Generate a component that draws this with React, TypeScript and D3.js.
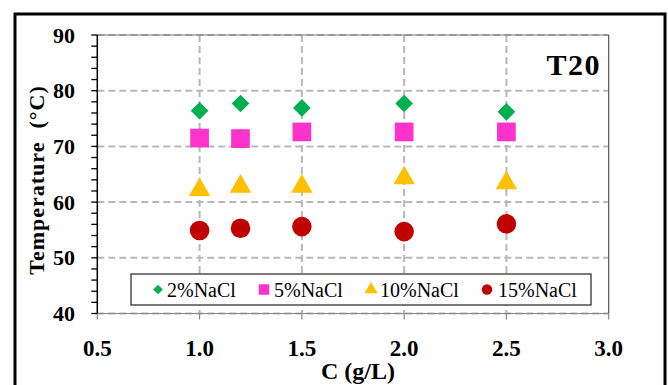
import React from "react";
import * as d3 from "d3";

const concentrations = [1.0, 1.2, 1.5, 2.0, 2.5];
const nacl2 = [76.4, 77.7, 76.9, 77.7, 76.2];
const nacl5 = [71.5, 71.4, 72.6, 72.6, 72.6];
const nacl10 = [62.2, 62.8, 62.8, 64.3, 63.4];
const nacl15 = [54.9, 55.3, 55.6, 54.7, 56.1];
const xTicks = [0.5, 1.0, 1.5, 2.0, 2.5, 3.0];
const yTicks = [40, 50, 60, 70, 80, 90];
const seriesNames = ["2%NaCl", "5%NaCl", "10%NaCl", "15%NaCl"];

const W = 668;
const H = 385;
const font = "Liberation Serif";

const x = d3.scaleLinear().domain([0.5, 3.0]).range([97.3, 608.7]);
const y = d3.scaleLinear().domain([40, 90]).range([313.5, 35]);

const series = [
  { name: seriesNames[0], values: nacl2, color: "#00b050", shape: d3.symbolDiamond2, size: 200, lsize: 60 },
  { name: seriesNames[1], values: nacl5, color: "#ff33cc", shape: d3.symbolSquare, size: 350, lsize: 110 },
  { name: seriesNames[2], values: nacl10, color: "#ffc000", shape: d3.symbolTriangle, size: 200, lsize: 75 },
  { name: seriesNames[3], values: nacl15, color: "#c00000", shape: d3.symbolCircle, size: 300, lsize: 85 },
];

// legend marker / text x positions (layout only)
const legendX = [158, 264, 371, 487];
const legendTextX = [167, 274, 380, 498];

const App = () => {
  const minorTicks = d3.range(40, 90.01, 2);
  return (
    <svg width={W} height={H} style={{ position: "absolute", left: 0, top: 0 }}>
      <rect x={0} y={0} width={W} height={H} fill="#fff" />
      {/* outer frame */}
      <rect x={15} y={14} width={650} height={H + 10} fill="none" stroke="#000" strokeWidth={3} />

      {/* grid */}
      {yTicks.map((t) => (
        <line key={"gy" + t} x1={x(0.5)} x2={x(3.0)} y1={y(t)} y2={y(t)}
          stroke="#b8b8b8" strokeWidth={2} strokeDasharray="7,4" />
      ))}
      {xTicks.slice(1, -1).map((t) => (
        <line key={"gx" + t} x1={x(t)} x2={x(t)} y1={y(90)} y2={y(40)}
          stroke="#b8b8b8" strokeWidth={2} strokeDasharray="7,4" />
      ))}
      {/* plot borders */}
      <line x1={x(0.5)} x2={x(3.0)} y1={y(90)} y2={y(90)} stroke="#777" strokeWidth={1} />
      <line x1={x(3.0)} x2={x(3.0)} y1={y(90)} y2={y(40)} stroke="#555" strokeWidth={1.2} />
      {/* x axis */}
      <line x1={x(0.5)} x2={x(3.0)} y1={y(40)} y2={y(40)} stroke="#888" strokeWidth={1.2} />
      {xTicks.map((t) => (
        <g key={"xt" + t}>
          <line x1={x(t)} x2={x(t)} y1={y(40)} y2={y(40) + 6} stroke="#888" strokeWidth={1.2} />
          <text x={x(t)} y={356} textAnchor="middle" fontFamily={font} fontWeight="bold" fontSize={23}>
            {d3.format(".1f")(t)}
          </text>
        </g>
      ))}
      {/* y axis */}
      <line x1={x(0.5)} x2={x(0.5)} y1={y(90)} y2={y(40)} stroke="#000" strokeWidth={1.5} />
      {minorTicks.map((t) => (
        <line key={"yt" + t} x1={x(0.5) - 6} x2={x(0.5)} y1={y(t)} y2={y(t)} stroke="#000" strokeWidth={1.3} />
      ))}
      {yTicks.map((t) => (
        <text key={"yl" + t} x={75} y={y(t) + 7.5} textAnchor="end" fontFamily={font} fontWeight="bold" fontSize={22}>
          {t}
        </text>
      ))}

      {/* axis titles */}
      <text x={358} y={379} textAnchor="middle" fontFamily={font} fontWeight="bold" fontSize={24}>
        C (g/L)
      </text>
      <text transform={`translate(44, 180) rotate(-90)`} textAnchor="middle" fontFamily={font}
        fontWeight="bold" fontSize={22} letterSpacing={1} style={{ whiteSpace: "pre" }}>
        {"Temperature  (°C)"}
      </text>
      <text x={601} y={75} textAnchor="end" fontFamily={font} fontWeight="bold" fontSize={30} letterSpacing={1.5}>
        T20
      </text>

      {/* data */}
      {series.map((s) => (
        <g key={s.name}>
          {s.values.map((v, i) => (
            <path key={i} transform={`translate(${x(concentrations[i])},${y(v)})`}
              d={d3.symbol(s.shape, s.size)() || ""} fill={s.color} />
          ))}
        </g>
      ))}

      {/* legend */}
      <rect x={131} y={274} width={460} height={31} fill="#fff" stroke="#333" strokeWidth={1.3} />
      {series.map((s, i) => (
        <g key={"lg" + s.name}>
          <path transform={`translate(${legendX[i]},${289.5})`} d={d3.symbol(s.shape, s.lsize)() || ""} fill={s.color} />
          <text x={legendTextX[i]} y={297} fontFamily={font} fontSize={20}>
            {s.name}
          </text>
        </g>
      ))}
    </svg>
  );
};

export default App;
